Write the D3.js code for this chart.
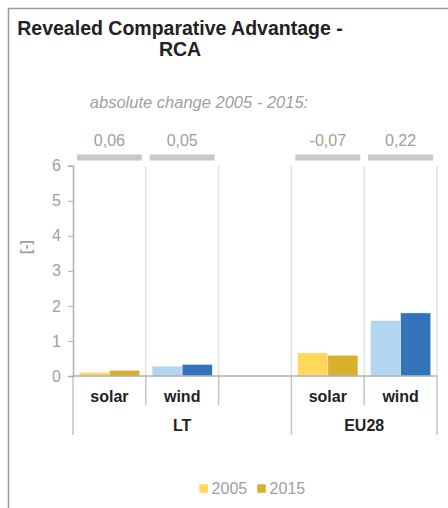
<!DOCTYPE html>
<html>
<head>
<meta charset="utf-8">
<script src="https://cdn.jsdelivr.net/npm/d3@7"></script>
<style>
  body { margin: 0; background: #fff; }
  text { font-family: "Liberation Sans", Arial, sans-serif; }
</style>
</head>
<body>
<div id="chart"></div>
<script>
// chart data
var slotGroups = ["LT", "LT", "LT", "EU28", "EU28"];
var slotTechs = ["solar", "wind", "", "solar", "wind"];
var values2005 = [0.10, 0.28, null, 0.66, 1.58];
var values2015 = [0.16, 0.33, null, 0.59, 1.80];
var changeLabels = ["0,06", "0,05", "", "-0,07", "0,22"];
var years = ["2005", "2015"];
var yTicks = [0, 1, 2, 3, 4, 5, 6];
var groupNames = ["LT", "EU28"];

var techColors = {
  solar: ["#FFD75A", "#D9B02A"],
  wind: ["#B3D6F0", "#3373BA"]
};

var W = 448, H = 508;
var svg = d3.select("#chart").append("svg")
  .attr("width", W).attr("height", H);

// outer frame (top and left only)
svg.append("path")
  .attr("d", "M8.5," + H + "V8.5H" + W)
  .attr("fill", "none").attr("stroke", "#9a9a9a").attr("stroke-width", 1.5);

// title
var title = svg.append("text")
  .attr("text-anchor", "middle")
  .attr("font-size", 19.5).attr("font-weight", 700).attr("fill", "#222");
title.append("tspan").attr("x", 180).attr("y", 35).text("Revealed Comparative Advantage -");
title.append("tspan").attr("x", 180).attr("y", 56).text("RCA");

svg.append("text")
  .attr("x", 199).attr("y", 108)
  .attr("text-anchor", "middle")
  .attr("font-size", 16.5).attr("font-style", "italic").attr("fill", "#a0a0a0")
  .text("absolute change 2005 - 2015:");

var slots = d3.range(slotTechs.length);
var x = d3.scaleBand().domain(slots).range([73, 437]);
var y = d3.scaleLinear().domain([0, 6]).range([376, 165.7]);
var xIn = d3.scaleBand().domain(years).range([6.3, x.bandwidth() - 6.3]);

// vertical grid lines at band edges
var edges = slots.map(function(i) { return x(i); }).concat([437]);
svg.append("g").selectAll("line")
  .data(edges.slice(1))
  .enter().append("line")
  .attr("x1", function(d) { return d; }).attr("x2", function(d) { return d; })
  .attr("y1", y(6)).attr("y2", y(0))
  .attr("stroke", "#e2e2e2").attr("stroke-width", 1.5);

// category separators below the axis
svg.append("g").selectAll("line")
  .data(edges)
  .enter().append("line")
  .attr("x1", function(d) { return d; }).attr("x2", function(d) { return d; })
  .attr("y1", y(0))
  .attr("y2", function(d, i) {
    if (i == 0 || i == edges.length - 1) return 435;
    return slotGroups[i] != slotGroups[i - 1] ? 435 : 405;
  })
  .attr("stroke", "#c4c4c4").attr("stroke-width", 1.5);

// y axis
var yAxis = svg.append("g")
  .attr("transform", "translate(73,0)")
  .call(d3.axisLeft(y).tickValues(yTicks).tickFormat(d3.format("d")).tickSize(5).tickPadding(7));
yAxis.select(".domain").attr("stroke", "#b0b0b0").attr("stroke-width", 1.5);
yAxis.selectAll(".tick line").attr("stroke", "#b0b0b0");
yAxis.selectAll("text")
  .attr("font-size", 16).attr("fill", "#a0a0a0")
  .attr("font-family", "Liberation Sans, Arial, sans-serif");

svg.append("text")
  .attr("transform", "translate(31,247) rotate(-90)")
  .attr("text-anchor", "middle")
  .attr("font-size", 14).attr("font-weight", 700).attr("fill", "#a0a0a0")
  .text("[-]");

// bars
var barData = [];
slots.forEach(function(i) {
  if (values2005[i] == null) return;
  barData.push({ slot: i, year: "2005", value: values2005[i], color: techColors[slotTechs[i]][0] });
  barData.push({ slot: i, year: "2015", value: values2015[i], color: techColors[slotTechs[i]][1] });
});
svg.append("g").selectAll("rect")
  .data(barData)
  .enter().append("rect")
  .attr("x", function(d) { return x(d.slot) + xIn(d.year); })
  .attr("y", function(d) { return y(d.value); })
  .attr("width", xIn.bandwidth())
  .attr("height", function(d) { return y(0) - y(d.value); })
  .attr("fill", function(d) { return d.color; })
  .attr("stroke", "#fff").attr("stroke-opacity", 0.5).attr("stroke-width", 0.8);

// x axis line
svg.append("line")
  .attr("x1", 73).attr("x2", 437).attr("y1", y(0)).attr("y2", y(0))
  .attr("stroke", "#b0b0b0").attr("stroke-width", 1.5);

// change markers above plot
var chg = slots.filter(function(i) { return changeLabels[i] != ""; });
svg.append("g").selectAll("rect")
  .data(chg)
  .enter().append("rect")
  .attr("x", function(i) { return x(i) + x.bandwidth() / 2 - 32.5; })
  .attr("y", 154.5).attr("width", 65).attr("height", 6)
  .attr("fill", "#c8c8c8");
svg.append("g").selectAll("text")
  .data(chg)
  .enter().append("text")
  .attr("x", function(i) { return x(i) + x.bandwidth() / 2; })
  .attr("y", 145.5)
  .attr("text-anchor", "middle")
  .attr("font-size", 16).attr("fill", "#a0a0a0")
  .text(function(i) { return changeLabels[i]; });

// category labels
svg.append("g").selectAll("text")
  .data(slots)
  .enter().append("text")
  .attr("x", function(i) { return x(i) + x.bandwidth() / 2; })
  .attr("y", 402)
  .attr("text-anchor", "middle")
  .attr("font-size", 16).attr("font-weight", 700).attr("fill", "#222")
  .text(function(i) { return slotTechs[i]; });

svg.append("g").selectAll("text")
  .data(groupNames)
  .enter().append("text")
  .attr("x", function(g) {
    var s = slots.filter(function(i) { return slotGroups[i] == g; });
    return (x(s[0]) + x(s[s.length - 1]) + x.bandwidth()) / 2;
  })
  .attr("y", 431)
  .attr("text-anchor", "middle")
  .attr("font-size", 16).attr("font-weight", 700).attr("fill", "#222")
  .text(function(g) { return g; });

// legend
var legX = [199.3, 257.3];
var leg = svg.append("g").selectAll("g")
  .data(years)
  .enter().append("g")
  .attr("transform", function(d, i) { return "translate(" + legX[i] + ",484.3)"; });
leg.append("rect")
  .attr("width", 8.5).attr("height", 8.5)
  .attr("fill", function(d, i) { return techColors.solar[i]; });
leg.append("text")
  .attr("x", 12.3).attr("y", 9.7)
  .attr("font-size", 16).attr("fill", "#a0a0a0")
  .text(function(d) { return d; });
</script>
</body>
</html>
